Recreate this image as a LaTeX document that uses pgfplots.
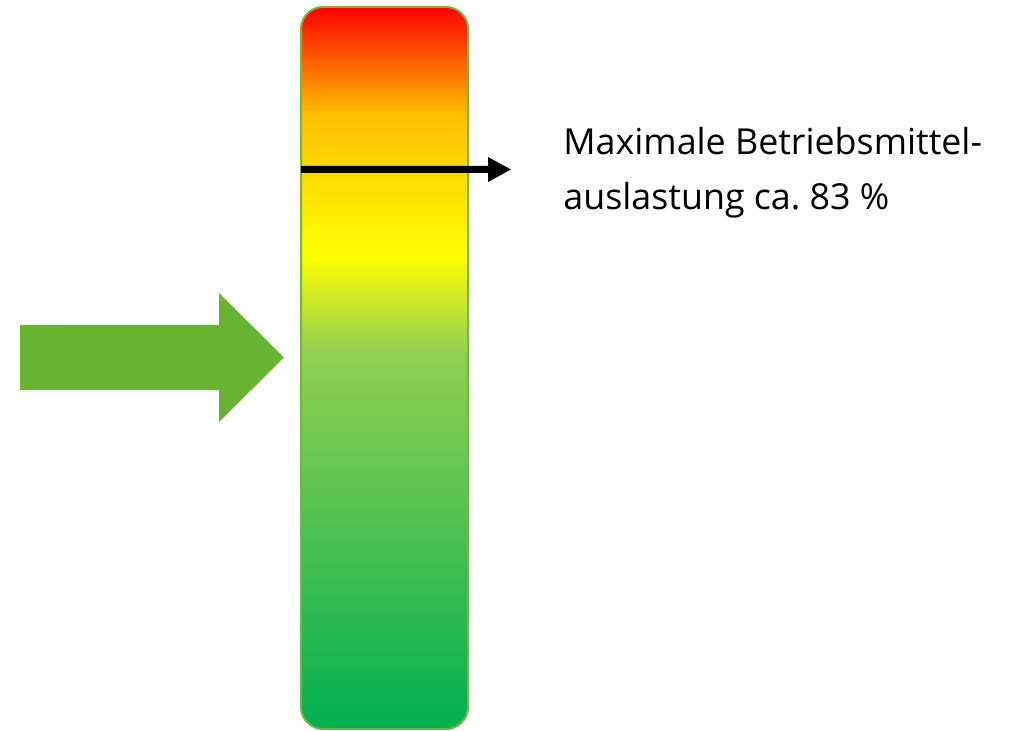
\documentclass[border=0pt]{standalone}
\usepackage{pgfplots}
\pgfplotsset{compat=1.18}
\usepackage{fontspec}
\setmainfont{Open Sans}
\frenchspacing

\definecolor{gaugeRed}{HTML}{FF0000}
\definecolor{gaugeAmber}{HTML}{FFC000}
\definecolor{gaugeYellow}{HTML}{FFFF00}
\definecolor{gaugeLight}{HTML}{92D050}
\definecolor{gaugeGreen}{HTML}{00B050}
\definecolor{gaugeFrame}{HTML}{70B842}
\definecolor{arrowGreen}{HTML}{67B431}

% vertical colour ramp of the load gauge (25bp = bottom, 75bp = top)
\pgfdeclareverticalshading{gauge}{100bp}{%
  color(0bp)=(gaugeGreen);
  color(25bp)=(gaugeGreen);
  color(51.2bp)=(gaugeLight);
  color(57.8bp)=(gaugeYellow);
  color(67.5bp)=(gaugeAmber);
  color(75bp)=(gaugeRed);
  color(100bp)=(gaugeRed)}

\begin{document}
\begin{tikzpicture}
\begin{axis}[
  scale only axis,
  width=507.5pt, height=365.5pt,
  xmin=0, xmax=1015, ymin=0, ymax=731,
  y dir=reverse,
  hide axis,
  clip=false,
]
% canvas extent
\addplot[draw=none, forget plot] coordinates {(0,0) (1015,731)};

% gauge bar
\addplot[draw=gaugeFrame, line width=1pt, shade, shading=gauge,
  rounded corners=11pt]
  coordinates {(384.5,7) (468,7) (468,729) (301,729) (301,7)} -- cycle;

% marker of the maximum load
\addplot[fill=black, draw=none]
  coordinates {(301,166) (488,166) (488,157) (511,169.5) (488,182)
               (488,173) (301,173)} -- cycle;

% current load arrow
\addplot[fill=arrowGreen, draw=none]
  coordinates {(20,325) (219,325) (219,293) (284,357.5) (219,422)
               (219,390) (20,390)} -- cycle;

\node[anchor=base west, inner sep=0pt, font=\fontsize{17.9}{21}\selectfont]
  at (axis cs:563,155) {Maximale Betriebsmittel-};
\node[anchor=base west, inner sep=0pt, font=\fontsize{17.9}{21}\selectfont]
  at (axis cs:563,210) {auslastung ca.\ 83~\%};
\end{axis}
\end{tikzpicture}
\end{document}
